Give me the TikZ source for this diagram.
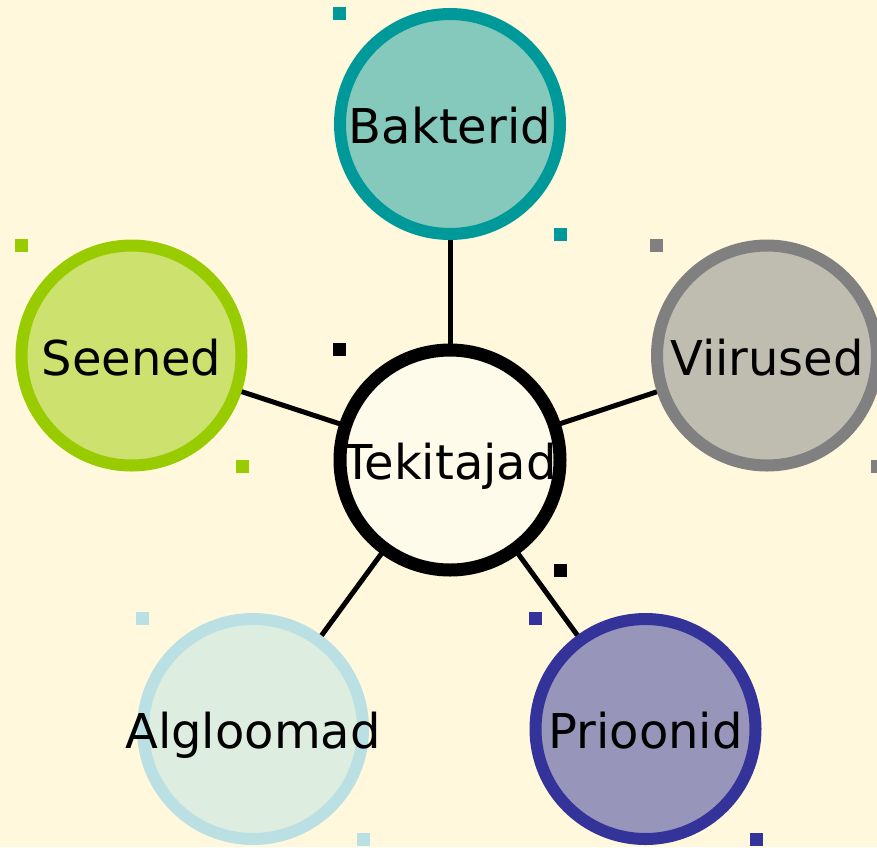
\documentclass[tikz,border=0pt]{standalone}
\usepackage{fontspec}
\setmainfont{DejaVu Sans}

\newcommand\cornermarks[2]{%
  \fill[#2] ([shift={(-117,-117)}]#1.center) rectangle +(13,13);
  \fill[#2] ([shift={(104,104)}]#1.center) rectangle +(13,13);
}

\begin{document}
\begin{tikzpicture}[
  x=1pt, y=-1pt,
  font=\fontsize{48}{57}\selectfont,
  cell/.style 2 args={circle, draw=#1, fill=#2, line width=12pt,
    minimum size=220pt, inner sep=0pt, outer sep=6pt,
    text height=39pt, text depth=0pt},
  link/.style={draw=black, line width=5pt},
]
\definecolor{Bg}{HTML}{FFF8DC}
\definecolor{HubFill}{HTML}{FFFBEB}
\definecolor{BakLine}{HTML}{009999}
\definecolor{BakFill}{HTML}{84C9BB}
\definecolor{SeeLine}{HTML}{99CC00}
\definecolor{SeeFill}{HTML}{CCE16E}
\definecolor{ViiLine}{HTML}{808080}
\definecolor{ViiFill}{HTML}{BFBDAF}
\definecolor{AlgLine}{HTML}{BBE0E3}
\definecolor{AlgFill}{HTML}{DDEDE0}
\definecolor{PriLine}{HTML}{333399}
\definecolor{PriFill}{HTML}{9795BA}

\fill[Bg] (0,0) rectangle (877,847);
\useasboundingbox (0,0) rectangle (877,847);

% ---- circles ----
\node[cell={black}{HubFill}, line width=13pt] (hub) at (450,460) {\makebox[0pt]{Tekitajad}};
\node[cell={BakLine}{BakFill}] (bak) at (450,124) {\makebox[0pt]{Bakterid}};
\node[cell={SeeLine}{SeeFill}] (see) at (131.5,355.5) {\makebox[0pt]{Seened}};
\node[cell={ViiLine}{ViiFill}] (vii) at (767,355.5) {\makebox[0pt]{Viirused}};
\node[cell={AlgLine}{AlgFill}] (alg) at (253,729) {\makebox[0pt]{Algloomad}};
\node[cell={PriLine}{PriFill}] (pri) at (645.5,729) {\makebox[0pt]{Prioonid}};

% ---- spokes ----
\foreach \n in {bak,see,vii,alg,pri}
  \draw[link] (hub) -- (\n);

% ---- corner marks ----
\cornermarks{hub}{black}
\cornermarks{bak}{BakLine}
\cornermarks{see}{SeeLine}
\cornermarks{vii}{ViiLine}
\cornermarks{alg}{AlgLine}
\cornermarks{pri}{PriLine}
\end{tikzpicture}
\end{document}
